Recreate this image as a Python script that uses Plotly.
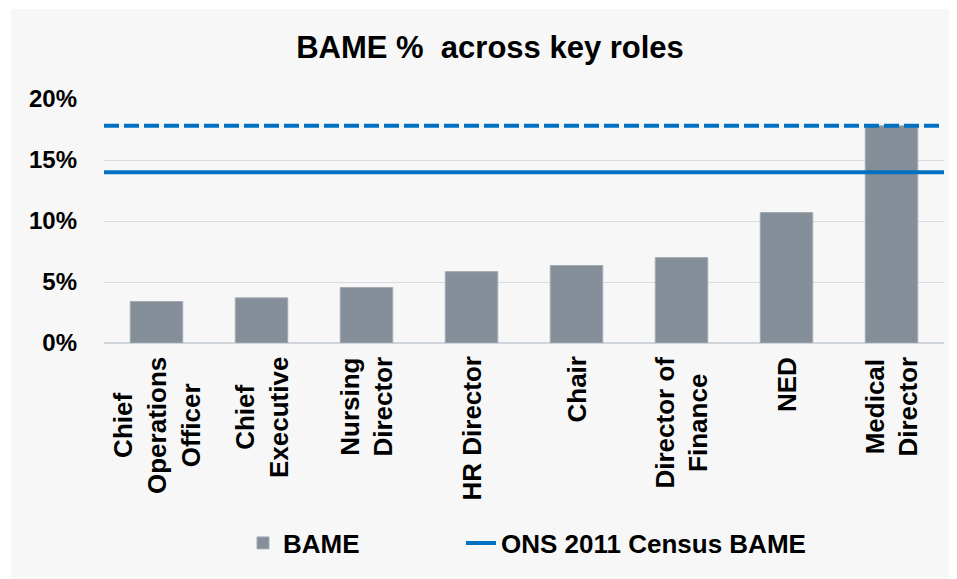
import plotly.graph_objects as go

categories = ["Chief<br>Operations<br>Officer", "Chief<br>Executive", "Nursing<br>Director",
              "HR Director", "Chair", "Director of<br>Finance", "NED", "Medical<br>Director"]
bame_pct = [3.4, 3.7, 4.55, 5.85, 6.35, 7.0, 10.7, 17.8]
ons_census_pct = 14.0
upper_ref_pct = 17.8
y_ticks = [0, 5, 10, 15, 20]

# the page puts the figure 8px in from the top-left corner
W, H = 949, 571
ML, MR, MT, MB = 96, 13, 91, 236
pw = W - ML - MR
ph = H - MT - MB

xpos = list(range(len(categories)))
xspan = [-0.5, len(categories) - 0.5]

font = "Liberation Sans, Arial, sans-serif"

fig = go.Figure()
fig.add_trace(go.Bar(
    x=xpos, y=bame_pct, name="<b>BAME</b>", width=0.5,
    marker=dict(color="#858f9a", line=dict(color="#a3abb3", width=1)),
    legend="legend",
))
fig.add_trace(go.Scatter(
    x=xspan, y=[upper_ref_pct] * 2, mode="lines", showlegend=False,
    name="Reference", line=dict(color="#0070c0", width=4, dash="15px,5px"),
))
fig.add_trace(go.Scatter(
    x=xspan, y=[ons_census_pct] * 2, mode="lines", name="<b>ONS 2011 Census BAME</b>",
    line=dict(color="#0070c0", width=4), legend="legend2",
))

# category labels, centred multi-line, rotated
annotations = []
for xp, c in zip(xpos, categories):
    annotations.append(dict(
        x=xp, y=0, xref="x", yref="y", text="<b>" + c.replace("<br>", "</b><br><b>") + "</b>",
        textangle=-90, showarrow=False, xanchor="center", yanchor="top", yshift=-12,
        align="center", font=dict(size=26, family=font, color="black"),
    ))

# small white strips to complete the outer frame
shapes = [
    dict(type="rect", xref="paper", yref="paper", layer="below",
         x0=-ML / pw, x1=(3 - ML) / pw, y0=-MB / ph, y1=(ph + MT) / ph,
         fillcolor="white", line=dict(width=0)),
    dict(type="rect", xref="paper", yref="paper", layer="below",
         x0=-ML / pw, x1=(W - ML) / pw, y0=(ph + MT - 1) / ph, y1=(ph + MT) / ph,
         fillcolor="white", line=dict(width=0)),
]

leg_y = -(535 - MT - ph) / ph
fig.update_layout(
    width=W, height=H,
    margin=dict(l=ML, r=MR, t=MT, b=MB, pad=0),
    paper_bgcolor="#f7f7f7", plot_bgcolor="#f7f7f7",
    font=dict(family=font, color="black", size=24),
    title=dict(text="<b>BAME %  across key roles</b>", x=482 / W, xanchor="center",
               y=1 - 39 / H, yanchor="middle", font=dict(size=31, family=font)),
    bargap=0.5,
    shapes=shapes,
    annotations=annotations,
    showlegend=True,
    legend=dict(orientation="h", x=(235 - ML) / pw, xanchor="left",
                y=leg_y, yanchor="middle",
                font=dict(size=26, family=font), bgcolor="rgba(0,0,0,0)"),
    legend2=dict(orientation="h", x=(453 - ML) / pw, xanchor="left",
                 y=leg_y, yanchor="middle",
                 font=dict(size=26, family=font), bgcolor="rgba(0,0,0,0)"),
)
fig.update_xaxes(
    range=xspan, tickmode="array", tickvals=xpos, showticklabels=False, ticks="",
    showgrid=False, showline=False, zeroline=False,
)
fig.update_yaxes(
    range=[0, 20], tickmode="array", tickvals=y_ticks,
    ticktext=["<b>%d%%</b>" % v for v in y_ticks],
    tickfont=dict(size=24, family=font), showgrid=True, gridcolor="#d9dde2", gridwidth=1,
    zeroline=True, zerolinecolor="#d0d5db", zerolinewidth=2, showline=False, ticks="",
    ticklabelstandoff=26,
)

fig.write_html("out.html")
